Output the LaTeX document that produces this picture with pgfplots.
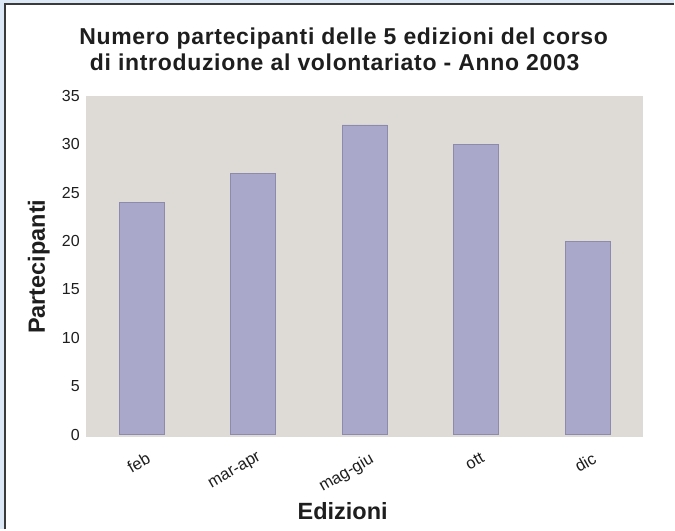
\documentclass[border=0pt]{standalone}
\usepackage{pgfplots}
\pgfplotsset{compat=1.18}
\usepackage{fontspec}
\setmainfont{Liberation Sans}
\definecolor{framebg}{HTML}{DCE8F5}
\definecolor{plotbg}{HTML}{DEDBD7}
\definecolor{barfill}{HTML}{AAA8CA}
\definecolor{baredge}{HTML}{8D8BAB}
\definecolor{framedark}{HTML}{3A3A3A}
\definecolor{txt}{HTML}{1E1E1E}
\begin{document}
\begin{tikzpicture}[x=1pt,y=1pt]
\fill[framebg] (-86,-93) rectangle (589,437);
\fill[white] (-80,-93) rectangle (589,432);
\draw[framedark, line width=1.5pt] (-80.75,-93) -- (-80.75,432.75) -- (589,432.75);
\useasboundingbox (-86,-93) rectangle (589,437);
\begin{axis}[
  at={(0,0)}, anchor=south west,
  scale only axis, width=558pt, height=341pt,
  xmin=-0.5, xmax=4.5, ymin=-0.2, ymax=35,
  axis background/.style={fill=plotbg},
  axis line style={draw=none},
  major tick length=0pt,
  ytick={0,5,...,35},
  xtick={0,1,2,3,4},
  xticklabels={feb,mar-apr,mag-giu,ott,dic},
  /pgf/number format/assume math mode=true,
  yticklabel style={font=\fontsize{16}{19}\selectfont, text=txt, anchor=east, inner sep=0pt, xshift=-6pt},
  xticklabel style={font=\fontsize{16.5}{19}\selectfont, text=txt, xshift=4pt, yshift=-15pt, rotate=30, anchor=north east, inner sep=0pt},
  ybar, bar width=45pt,
  clip=false,
]
\addplot[fill=barfill, draw=baredge, line width=0.8pt] coordinates {(0,24) (1,27) (2,32) (3,30) (4,20)};
\end{axis}
\node[font=\bfseries\fontsize{23}{27}\selectfont\addfontfeatures{LetterSpace=3}, text=txt, anchor=base] at (258,392.7) {Numero partecipanti delle 5 edizioni del corso};
\node[font=\bfseries\fontsize{23}{27}\selectfont\addfontfeatures{LetterSpace=3}, text=txt, anchor=base] at (249,366) {di introduzione al volontariato - Anno 2003};
\node[font=\bfseries\fontsize{23.5}{28}\selectfont, text=txt, anchor=base] at (257,-83) {Edizioni};
\node[font=\bfseries\fontsize{23.5}{28}\selectfont, text=txt, anchor=base, rotate=90] at (-41,170) {Partecipanti};
\end{tikzpicture}
\end{document}
